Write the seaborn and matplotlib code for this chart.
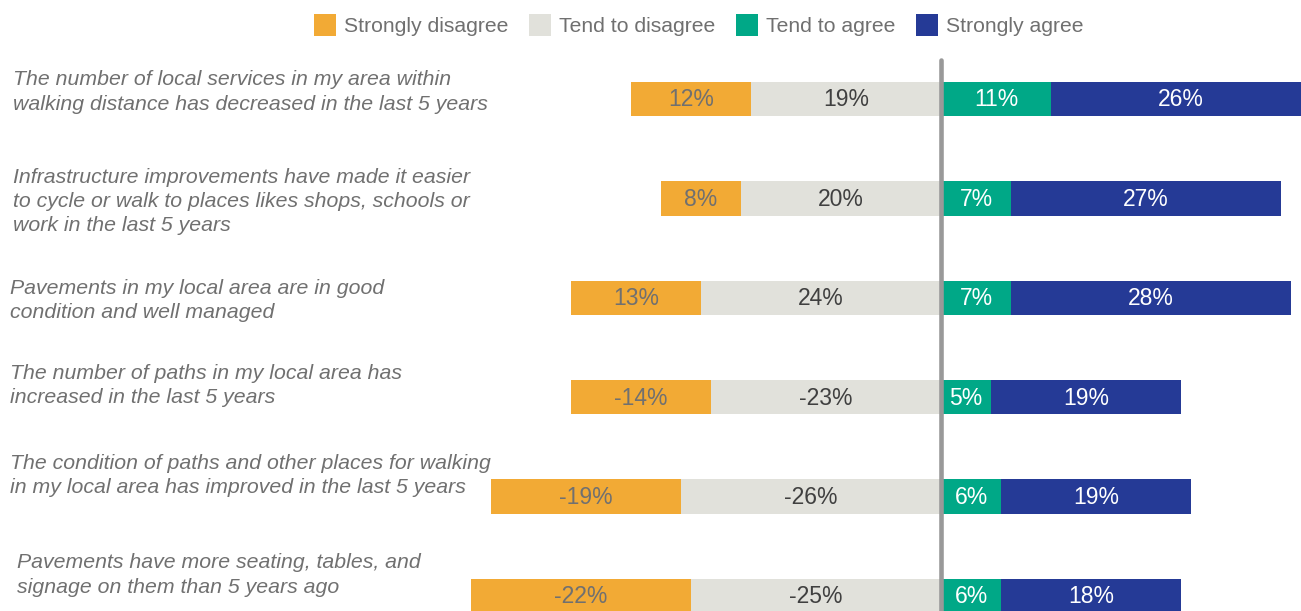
import matplotlib
matplotlib.use("Agg")
import matplotlib.pyplot as plt
from matplotlib.lines import Line2D
from matplotlib.transforms import blended_transform_factory
import seaborn as sns
import pandas as pd

# Survey statements (display text, with line breaks)
statements = [
    "The number of local services in my area within\nwalking distance has decreased in the last 5 years",
    "Infrastructure improvements have made it easier\nto cycle or walk to places likes shops, schools or\nwork in the last 5 years",
    "Pavements in my local area are in good\ncondition and well managed",
    "The number of paths in my local area has\nincreased in the last 5 years",
    "The condition of paths and other places for walking\nin my local area has improved in the last 5 years",
    "Pavements have more seating, tables, and\nsignage on them than 5 years ago",
]

# Response shares (%) as printed on the bars
strongly_disagree = [12, 8, 13, -14, -19, -22]
tend_to_disagree = [19, 20, 24, -23, -26, -25]
tend_to_agree = [11, 7, 7, 5, 6, 6]
strongly_agree = [26, 27, 28, 19, 19, 18]

series_names = ["Strongly disagree", "Tend to disagree", "Tend to agree", "Strongly agree"]
colors = {
    "Strongly disagree": "#F2AA35",
    "Tend to disagree": "#E1E1DB",
    "Tend to agree": "#00A887",
    "Strongly agree": "#253A96",
}
label_colors = {
    "Strongly disagree": "#707070",
    "Tend to disagree": "#404040",
    "Tend to agree": "white",
    "Strongly agree": "white",
}

sns.set_theme(style="white")
plt.rcParams["font.family"] = ["Liberation Sans", "DejaVu Sans"]

df = pd.DataFrame({
    "statement": statements,
    "sd": [abs(v) for v in strongly_disagree],
    "td": [abs(v) for v in tend_to_disagree],
    "ta": tend_to_agree,
    "sa": strongly_agree,
})
df["neg_outer"] = -(df["sd"] + df["td"])
df["neg_inner"] = -df["td"]
df["pos_outer"] = df["ta"] + df["sa"]
df["pos_inner"] = df["ta"]

fig = plt.figure(figsize=(13.01, 6.11), dpi=100)
ax = fig.add_axes([0, 0, 1, 1])

bar_w = 0.345
# Stacked segments: draw the full-length bar first, then the inner part on top
for col, name in [("neg_outer", "Strongly disagree"), ("neg_inner", "Tend to disagree"),
                  ("pos_outer", "Strongly agree"), ("pos_inner", "Tend to agree")]:
    sns.barplot(data=df, x=col, y="statement", orient="y", color=colors[name],
                width=bar_w, saturation=1, linewidth=0, ax=ax)

# Value labels centred in each segment
for i in range(len(statements)):
    sd, td, ta, sa = df.loc[i, ["sd", "td", "ta", "sa"]]
    segs = [
        (-(td + sd / 2), strongly_disagree[i], "Strongly disagree"),
        (-td / 2, tend_to_disagree[i], "Tend to disagree"),
        (ta / 2, tend_to_agree[i], "Tend to agree"),
        (ta + sa / 2, strongly_agree[i], "Strongly agree"),
    ]
    for xc, val, name in segs:
        ax.text(xc, i + 0.01, f"{val}%", ha="center", va="center", fontsize=16.5,
                color=label_colors[name], zorder=5)

# Statement text at the left edge of the figure
trans = blended_transform_factory(fig.transFigure, ax.transData)
text_x = [13, 13, 10, 10, 10, 17]
text_dy = [-0.07, 0.03, 0.03, -0.12, -0.21, -0.21]
for i, s in enumerate(statements):
    ax.text(text_x[i] / 1301, i + text_dy[i], s, transform=trans, ha="left", va="center",
            fontsize=15.3, style="italic", color="#707070", linespacing=1.35)

ax.set_xlim(-94.1, 36.0)
ax.set_ylim(5.151, -0.996)
ax.axvline(0, ymin=0, ymax=1 - 60 / 611, color="#999999", linewidth=3.3, zorder=4)
ax.axis("off")

handles = [Line2D([0], [0], marker="s", linestyle="none", markersize=16,
                  markerfacecolor=colors[n], markeredgewidth=0) for n in series_names]
fig.legend(handles, series_names, loc="upper center", bbox_to_anchor=(0.537, 1.003), ncol=4,
           frameon=False, fontsize=15.2, labelcolor="#707070", handletextpad=0.4,
           columnspacing=1.0, handlelength=1.0)

fig.savefig("out.png", dpi=100)
